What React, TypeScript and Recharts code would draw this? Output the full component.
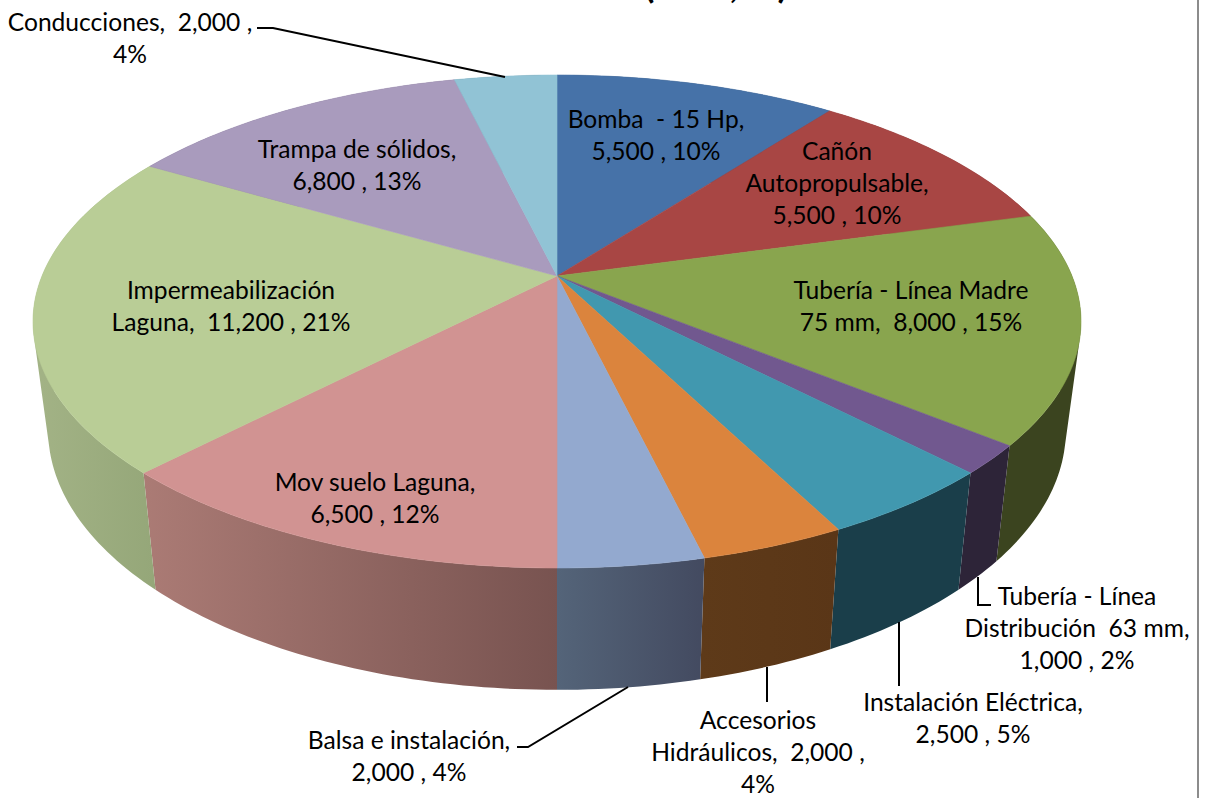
import React from 'react';
import { PieChart, Pie } from 'recharts';

const titleText = '(USD, %)';
const categories = ['Bomba - 15 Hp', 'Cañón Autopropulsable', 'Tubería - Línea Madre 75 mm', 'Tubería - Línea Distribución 63 mm', 'Instalación Eléctrica', 'Accesorios Hidráulicos', 'Balsa e instalación', 'Mov suelo Laguna', 'Impermeabilización Laguna', 'Trampa de sólidos', 'Conducciones'];
const values = [5500, 5500, 8000, 1000, 2500, 2000, 2000, 6500, 11200, 6800, 2000];
const topColors = ['#4672a8', '#a84644', '#89a54e', '#71588f', '#4198af', '#db843d', '#93a9cf', '#d19392', '#b9cd96', '#a99bbd', '#91c3d5'];
const wallFrom = ['#2a4465', '#652a29', '#3b441f', '#2d2438', '#1a3e4a', '#5e3a19', '#546479', '#ab7b75', '#a3b386', '#655d71', '#577580'];
const wallTo = ['#2a4465', '#652a29', '#3b441f', '#2d2438', '#1a3e4a', '#5a3617', '#434a60', '#785350', '#94a678', '#655d71', '#577580'];
const labelLines = [
  ['Bomba  - 15 Hp,', '5,500 , 10%'],
  ['Cañón', 'Autopropulsable,', '5,500 , 10%'],
  ['Tubería - Línea Madre', '75 mm,  8,000 , 15%'],
  ['Tubería - Línea', 'Distribución  63 mm,', '1,000 , 2%'],
  ['Instalación Eléctrica,', '2,500 , 5%'],
  ['Accesorios', 'Hidráulicos,  2,000 ,', '4%'],
  ['Balsa e instalación,', '2,000 , 4%'],
  ['Mov suelo Laguna,', '6,500 , 12%'],
  ['Impermeabilización', 'Laguna,  11,200 , 21%'],
  ['Trampa de sólidos,', '6,800 , 13%'],
  ['Conducciones,  2,000 ,', '4%'],
];
const labelAnchors: [number, number][] = [[656, 119], [837, 151], [911, 290], [1077, 596], [973, 702], [758, 720], [409, 740], [375, 482], [231, 290], [357, 149], [130, 22]];
const leaders: (string | null)[] = [null, null, null, '991,605 978,605 978,577', '899,622 899,686', '767,667 767,702', '628,687 528,747 517,747', null, null, null, '257,28 273,28 505,77'];

const chartData = categories.map((name, i) => ({ name, value: values[i], idx: i }));

const PERSPECTIVE = 0.1846;
const TILT = 0.4623;
const BASE_X = 0.971;
const BASE_Y = 1.0526;
const DEPTH = 0.2068;

type Pt = [number, number];
function project(cx: number, cy: number, r: number, deg: number): Pt {
  const rad = (deg * Math.PI) / 180;
  const u = Math.cos(rad);
  const v = Math.sin(rad);
  const w = 1 + PERSPECTIVE * v;
  return [cx + (r * u) / w, cy - (r * TILT * v) / w];
}
function toBase(p: Pt, cx: number, cy: number, r: number): Pt {
  return [cx + (p[0] - cx) * BASE_X, cy + (p[1] - cy) * BASE_Y + r * DEPTH];
}
function arc(cx: number, cy: number, r: number, a0: number, a1: number): Pt[] {
  const n = Math.max(2, Math.ceil(Math.abs(a1 - a0)));
  return Array.from({ length: n + 1 }, (_, i) => project(cx, cy, r, a0 + ((a1 - a0) * i) / n));
}
const fmt = (p: Pt) => `${p[0].toFixed(2)},${p[1].toFixed(2)}`;
const toPath = (pts: Pt[]) => 'M' + pts.map(fmt).join('L') + 'Z';
function signedArea(pts: Pt[]) {
  let a = 0;
  pts.forEach((p, i) => {
    const q = pts[(i + 1) % pts.length];
    a += p[0] * q[1] - q[0] * p[1];
  });
  return a;
}

function TopShape(props: any) {
  const { cx, cy, outerRadius, startAngle, endAngle, payload } = props;
  const i = payload?.idx ?? props.idx;
  const pts: Pt[] = [[cx, cy], ...arc(cx, cy, outerRadius, startAngle, endAngle)];
  return <path d={toPath(pts)} fill={topColors[i]} stroke={topColors[i]} strokeWidth={0.6} />;
}
function WallShape(props: any) {
  const { cx, cy, outerRadius, startAngle, endAngle, payload } = props;
  const i = payload?.idx ?? props.idx;
  const top = arc(cx, cy, outerRadius, startAngle, endAngle);
  const base = top.map((p) => toBase(p, cx, cy, outerRadius));
  // every strip of the wall is wound the same way, so that their union also fills the fold at the silhouette
  const strips = top.slice(0, -1).map((p, k) => {
    const quad: Pt[] = [p, top[k + 1], base[k + 1], base[k]];
    return toPath(signedArea(quad) < 0 ? quad.reverse() : quad);
  });
  const id = `wall-${i}`;
  return (
    <g>
      <defs>
        <linearGradient id={id} x1="0" x2="1" y1="0" y2="0">
          <stop offset="0" stopColor={wallFrom[i]} />
          <stop offset="1" stopColor={wallTo[i]} />
        </linearGradient>
      </defs>
      <path d={strips.join('')} fill={`url(#${id})`} fillRule="nonzero" stroke="none" />
    </g>
  );
}
function renderLabel(props: any) {
  const i = props.index;
  const [x, y] = labelAnchors[i];
  const lines = labelLines[i];
  return (
    <g key={i}>
      {leaders[i] && <polyline points={leaders[i] as string} fill="none" stroke="#000" strokeWidth={2} />}
      <text x={x} y={y} textAnchor="middle" fontFamily="Lato, sans-serif" fontSize={24.6} fill="#000" style={{ whiteSpace: 'pre' }}>
        {lines.map((l, k) => (
          <tspan key={k} x={x} y={y + k * 32.3 + 8.5} style={{ whiteSpace: 'pre' }}>{l}</tspan>
        ))}
      </text>
    </g>
  );
}

export default function App() {
  return (
    <div style={{ position: 'absolute', left: 0, top: 0, width: 1210, height: 798, background: '#fff', overflow: 'hidden' }}>
      <div style={{ position: 'absolute', left: 1197, top: 0, width: 2, height: 798, background: '#8c8c8c' }} />
      <div style={{ position: 'absolute', left: 0, top: 0 }}>
        <PieChart width={1210} height={798} margin={{ top: 0, right: 0, bottom: 0, left: 0 }}>
          <text x={716} y={-2} textAnchor="middle" fontFamily="Lato, sans-serif" fontWeight={700} fontSize={37} fill="#000">{titleText}</text>
          <Pie data={chartData} dataKey="value" nameKey="name" cx={557} cy={276} outerRadius={515} innerRadius={0} startAngle={90} endAngle={-270} isAnimationActive={false} stroke="none" shape={WallShape} label={false} labelLine={false} />
          <Pie data={chartData} dataKey="value" nameKey="name" cx={557} cy={276} outerRadius={515} innerRadius={0} startAngle={90} endAngle={-270} isAnimationActive={false} stroke="none" shape={TopShape} label={renderLabel} labelLine={false} />
        </PieChart>
      </div>
    </div>
  );
}
